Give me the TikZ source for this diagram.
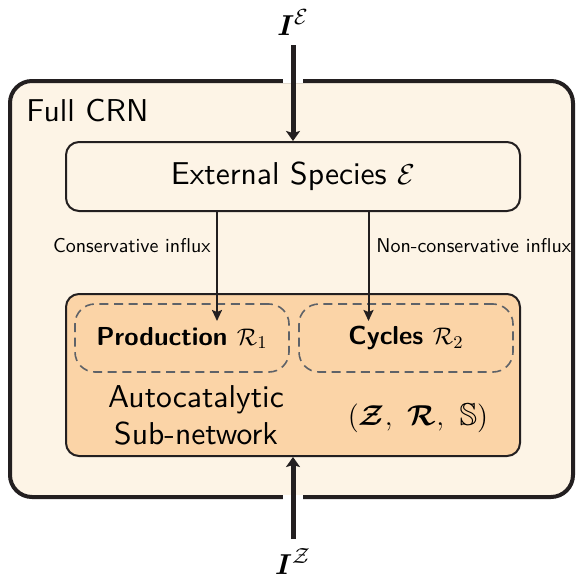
\documentclass[tikz,border=0pt]{standalone}
\usepackage{amsmath,amssymb,bm}
\usepackage{fontspec}
\newfontfamily\bigsans{lmsans10-regular.otf}
\usetikzlibrary{arrows.meta}
\definecolor{cream}{HTML}{FDF4E6}
\definecolor{peach}{HTML}{FBD4A7}
\definecolor{ink}{HTML}{231F20}
\definecolor{dashgray}{HTML}{5E6268}
\begin{document}
\begin{tikzpicture}[x=0.5pt,y=-0.5pt,
  fullbox/.style={draw=ink, line width=2pt, fill=cream, rounded corners=11pt,
    minimum width=281.5pt, minimum height=208pt, inner sep=0pt},
  roundbox/.style={draw=ink, line width=1pt, rounded corners=6.5pt,
    minimum width=227pt, inner sep=0pt},
  dashbox/.style={draw=dashgray, line width=0.8pt, dash pattern=on 4.5pt off 2.8pt,
    rounded corners=10pt, minimum width=107pt, minimum height=34pt, inner sep=0pt,
    font=\sffamily\bfseries\fontsize{13}{15}\selectfont},
  big/.style={font=\fontsize{15.8}{18.5}\bigsans},
  small/.style={font=\sffamily\fontsize{10}{12}\selectfont, inner sep=0pt},
  heavyarrow/.style={draw=ink, line width=2.5pt, -{Stealth[length=5pt,width=7pt,inset=1pt]}},
  lightarrow/.style={draw=ink, line width=1pt, -{Stealth[length=5.5pt,width=5pt,inset=1pt]}}]
\useasboundingbox (0,0) rectangle (575,578);
\fill[white] (0,0) rectangle (575,578);

% outer box
\node[fullbox] (full) at (291.5,289) {};
\node[big, anchor=base west, inner sep=0pt] (fulllabel) at (26,121) {Full CRN};

% gaps in the outer border
\fill[white] (283,78) rectangle (303,83.2);
\fill[white] (283,494.8) rectangle (303,500);

% external species
\node[roundbox, fill=cream, minimum height=34.5pt, big] (ext) at (293,176.5) {External Species $\mathcal{E}$};

% autocatalytic sub-network
\node[roundbox, fill=peach, minimum height=81pt] (auto) at (293,375) {};
\node[dashbox] (prod) at (182,338) {Production $\mathcal{R}_1$};
\node[dashbox] (cyc) at (406,338) {Cycles $\mathcal{R}_2$};
\node[big, align=center] (autotext) at (196,415) {Autocatalytic\\Sub-network};
\node[big] (zrs) at (418,418) {$(\bm{\mathcal{Z}},\ \bm{\mathcal{R}},\ \mathbb{S})$};

% influx labels
\node[small, anchor=east] (conslabel) at (211,246) {Conservative influx};
\node[small, anchor=west] (nclabel) at (376,246) {Non-conservative influx};

% inputs
\node[big, anchor=base] (ie) at (293,35) {$\bm{I}^{\mathcal{E}}$};
\node[big, anchor=base] (iz) at (293,574) {$\bm{I}^{\mathcal{Z}}$};

\coordinate (etail) at (293,45);
\coordinate (ztail) at (293,539);
\coordinate (ltip) at (217,321);
\coordinate (rtip) at (368.5,321);

\draw[heavyarrow] (etail) -- (ext.north);
\draw[heavyarrow] (ztail) -- (auto.south);
\draw[lightarrow] (ext.south -| ltip) -- (ltip);
\draw[lightarrow] (ext.south -| rtip) -- (rtip);
\end{tikzpicture}
\end{document}
